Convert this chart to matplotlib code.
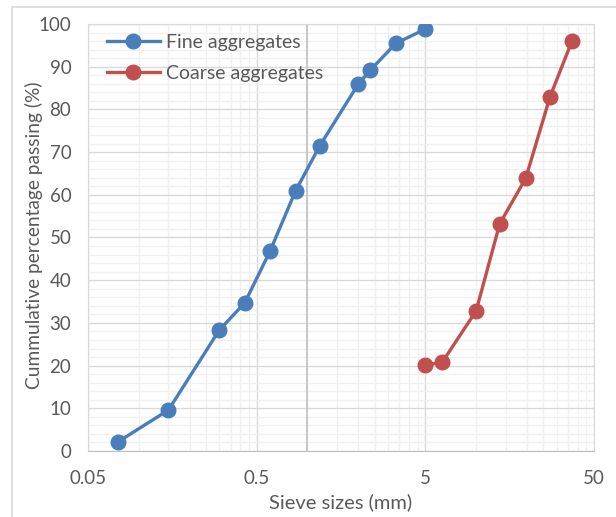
import matplotlib
matplotlib.use("Agg")
import matplotlib.pyplot as plt
from matplotlib.ticker import FixedLocator, FixedFormatter, MultipleLocator
from matplotlib.patches import Rectangle

# sieve analysis data
fine_size = [0.075, 0.15, 0.30, 0.425, 0.6, 0.85, 1.18, 2.0, 2.36, 3.35, 5.0]
fine_pass = [2.1, 9.6, 28.3, 34.7, 46.8, 60.9, 71.4, 85.9, 89.2, 95.5, 98.8]

coarse_size = [5.0, 6.3, 10.0, 13.8, 19.7, 27.4, 37.0]
coarse_pass = [20.1, 20.8, 32.8, 53.2, 63.9, 82.9, 96.0]

x_ticks = [0.05, 0.5, 5, 50]
x_tick_labels = ["0.05", "0.5", "5", "50"]

plt.rcParams['font.family'] = ['Lato', 'DejaVu Sans']
txt = "#595959"

fig = plt.figure(figsize=(6.16, 5.17), dpi=100)
ax = fig.add_axes([88/616, 66/517, 506/616, 427/517])

# chart area border (only left/top visible in the crop)
fig.patches.append(Rectangle((12/616, -0.1), 1.0, (517 - 7)/517 + 0.1,
                             transform=fig.transFigure, fill=False,
                             edgecolor="#d9d9d9", linewidth=1.2))

ax.set_xscale("log")
ax.set_xlim(0.05, 50)
ax.set_ylim(0, 100)

# minor grid at k*0.05, k*0.5, k*5
minors = [m * d for d in (0.05, 0.5, 5) for m in range(2, 10)]
ax.xaxis.set_major_locator(FixedLocator(x_ticks))
ax.xaxis.set_major_formatter(FixedFormatter(x_tick_labels))
ax.xaxis.set_minor_locator(FixedLocator(minors))
ax.xaxis.set_minor_formatter(FixedFormatter([""] * len(minors)))
ax.yaxis.set_major_locator(MultipleLocator(10))
ax.yaxis.set_minor_locator(MultipleLocator(2))

ax.grid(which="minor", color="#f0f0f0", linewidth=1.0)
ax.grid(which="major", color="#d9d9d9", linewidth=1.0)
ax.set_axisbelow(True)
# value axis crosses at 1
ax.axvline(1.0, color="#bfbfbf", linewidth=1.2, zorder=1)

for s in ax.spines.values():
    s.set_color("#d9d9d9")
ax.spines["bottom"].set_color("#bfbfbf")

ax.tick_params(which="both", length=0, labelsize=13.5, colors=txt)
ax.tick_params(axis="x", pad=14)
ax.tick_params(axis="y", pad=12)

ax.plot(fine_size, fine_pass, color="#4a7ebb", linewidth=2.4, marker="o",
        markersize=10.5, label="Fine aggregates", zorder=3)
ax.plot(coarse_size, coarse_pass, color="#c0504d", linewidth=2.4, marker="o",
        markersize=10.5, label="Coarse aggregates", zorder=3)

ax.set_xlabel("Sieve sizes (mm)", fontsize=14.5, color=txt)
ax.set_ylabel("Cummulative percentage passing (%)", fontsize=13.8, color=txt)
ax.xaxis.set_label_coords(0.5, -0.098)
ax.yaxis.set_label_coords(-0.088, 0.505)

leg = ax.legend(loc="upper left", bbox_to_anchor=(0.037, 0.977), frameon=False,
                fontsize=14, labelcolor=txt, handlelength=2.75,
                handletextpad=0.3, borderaxespad=0, borderpad=0,
                labelspacing=0.72)

fig.savefig("out.png", dpi=100)
